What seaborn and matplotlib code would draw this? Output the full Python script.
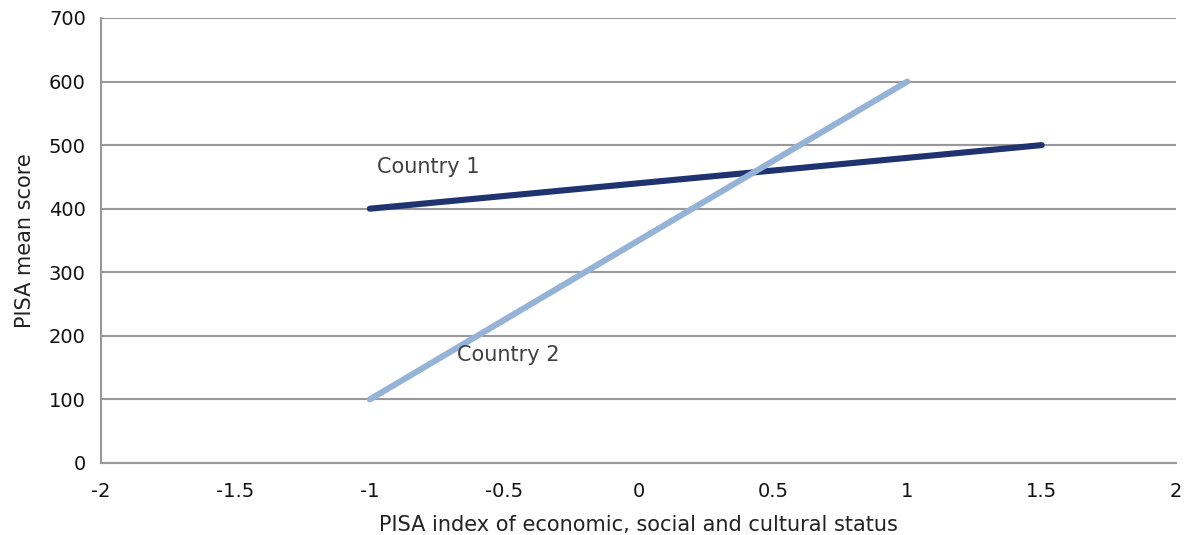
import matplotlib
matplotlib.use("Agg")
import matplotlib.pyplot as plt
import seaborn as sns
import pandas as pd

# data
country1_x = [-1, 1.5]
country1_y = [400, 500]
country2_x = [-1, 1]
country2_y = [100, 600]
x_ticks = [-2, -1.5, -1, -0.5, 0, 0.5, 1, 1.5, 2]
x_tick_labels = ["-2", "-1.5", "-1", "-0.5", "0", "0.5", "1", "1.5", "2"]
y_ticks = [0, 100, 200, 300, 400, 500, 600, 700]

df = pd.concat([
    pd.DataFrame({"escs": country1_x, "score": country1_y, "country": "Country 1"}),
    pd.DataFrame({"escs": country2_x, "score": country2_y, "country": "Country 2"}),
])

sns.set_style("white")
plt.rcParams['font.family'] = ['DejaVu Sans']

fig = plt.figure(figsize=(11.86, 5.35), dpi=100)
ax = fig.add_axes([0.0852, 0.1346, 0.9064, 0.8318])

sns.lineplot(data=df, x="escs", y="score", hue="country",
             palette={"Country 1": "#1f3370", "Country 2": "#95b3d7"},
             linewidth=4.4, legend=False, ax=ax, zorder=3,
             solid_capstyle="round")

ax.set_xlim(-2, 2)
ax.set_ylim(0, 700)
ax.set_xticks(x_ticks)
ax.set_xticklabels(x_tick_labels)
ax.set_yticks(y_ticks)
ax.yaxis.grid(True, color="#999999", linewidth=1.5)
ax.xaxis.grid(False)
for s in ["top", "right"]:
    ax.spines[s].set_visible(False)
for s in ["left", "bottom"]:
    ax.spines[s].set_color("#999999")
    ax.spines[s].set_linewidth(1.5)
ax.tick_params(axis="both", direction="out", length=5, width=1.2, color="#999999",
               labelsize=14, labelcolor="#111111", pad=6)
ax.tick_params(axis="x", pad=9)

ax.set_xlabel("PISA index of economic, social and cultural status", fontsize=15,
              color="#222222", labelpad=10)
ax.set_ylabel("PISA mean score", fontsize=15, color="#222222", labelpad=10)

ax.text(-0.975, 465, "Country 1", fontsize=15, color="#404040", va="center")
ax.text(-0.675, 170, "Country 2", fontsize=15, color="#404040", va="center")

fig.savefig("out.png", dpi=100)
